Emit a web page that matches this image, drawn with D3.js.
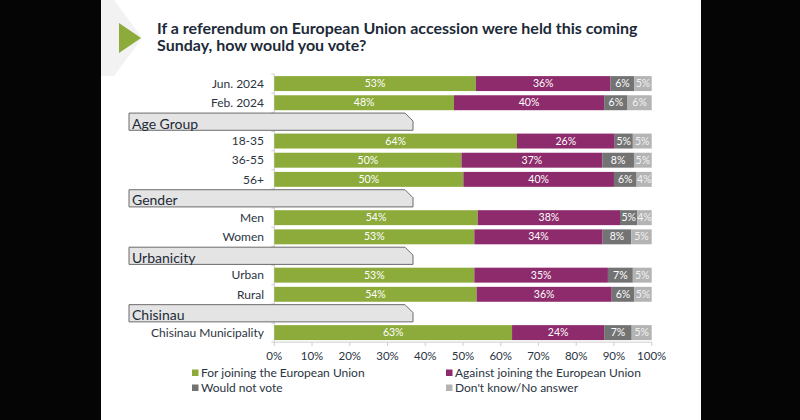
<!DOCTYPE html>
<html><head><meta charset="utf-8">
<script src="https://cdn.jsdelivr.net/npm/d3@7"></script>
<style>
html,body{margin:0;padding:0;background:#000;}
svg{display:block;}
text{font-family:Lato,"Open Sans",sans-serif;}
</style></head>
<body>
<script>
// ---- data ----
const rowIds   = ["Jun. 2024","Feb. 2024","H:Age Group","18-35","36-55","56+","H:Gender","Men","Women","H:Urbanicity","Urban","Rural","H:Chisinau","Chisinau Municipality"];
const seriesNames = ["For joining the European Union","Against joining the European Union","Would not vote","Don't know/No answer"];
const forEU     = {"Jun. 2024":53.4,"Feb. 2024":47.6,"18-35":64.3,"36-55":49.6,"56+":50.1,"Men":53.9,"Women":53.0,"Urban":53.0,"Rural":53.6,"Chisinau Municipality":63.0};
const againstEU = {"Jun. 2024":35.7,"Feb. 2024":39.8,"18-35":25.9,"36-55":37.3,"56+":39.9,"Men":37.7,"Women":34.0,"Urban":35.4,"Rural":35.8,"Chisinau Municipality":24.4};
const notVote   = {"Jun. 2024":6.3,"Feb. 2024":6.2,"18-35":4.8,"36-55":8.4,"56+":6.0,"Men":4.6,"Women":7.6,"Urban":6.6,"Rural":6.0,"Chisinau Municipality":7.3};
const dontKnow  = {"Jun. 2024":4.6,"Feb. 2024":6.4,"18-35":5.0,"36-55":4.7,"56+":4.0,"Men":3.8,"Women":5.4,"Urban":5.0,"Rural":4.6,"Chisinau Municipality":5.3};
const xTicks = [0,10,20,30,40,50,60,70,80,90,100];
const colors = ["#8cab3b","#8d2b6c","#737373","#b4b4b4"];
const titleLines = ["If a referendum on European Union accession were held this coming","Sunday, how would you vote?"];

const W=800,H=420;
const svg=d3.select("body").append("svg").attr("width",W).attr("height",H);
svg.append("rect").attr("x",0).attr("y",0).attr("width",W).attr("height",H).attr("fill","#050505");
svg.append("rect").attr("x",101).attr("y",0).attr("width",600).attr("height",H).attr("fill","#ffffff");

// decoration
svg.append("polygon").attr("points","101,0 114,0 142,38 114,76 101,76").attr("fill","#f2f2f2");
svg.append("polygon").attr("points","119,23 141,38 119,53").attr("fill","#8cab3b");

const title=svg.append("text").attr("x",157).attr("y",34).attr("fill","#1d2a38")
  .style("font-size","16px").style("font-weight","bold");
titleLines.forEach((t,i)=>title.append("tspan").attr("x",157).attr("y",34+16.5*i).text(t));

const x=d3.scaleLinear().domain([0,100]).range([274.3,651.7]);
const y=d3.scaleBand().domain(rowIds).range([74,342.2]).paddingInner(0.22).paddingOuter(0.11);
const step=y.step();

// axis lines
const axisColor="#cfcfcf";
svg.append("line").attr("x1",x(0)).attr("x2",x(0)).attr("y1",74).attr("y2",342.2).attr("stroke",axisColor);
svg.append("line").attr("x1",x(0)).attr("x2",x(100)).attr("y1",342.2).attr("y2",342.2).attr("stroke",axisColor);
d3.range(rowIds.length+1).forEach(i=>{
  const yy=74+i*step;
  svg.append("line").attr("x1",x(0)-3).attr("x2",x(0)).attr("y1",yy).attr("y2",yy).attr("stroke",axisColor);
});
xTicks.forEach(t=>{
  svg.append("line").attr("x1",x(t)).attr("x2",x(t)).attr("y1",342.2).attr("y2",346).attr("stroke",axisColor);
  svg.append("text").attr("x",x(t)).attr("y",360).attr("text-anchor","middle").attr("fill","#2b3442")
    .style("font-size","11.5px").text(t+"%");
});

const dataRows=rowIds.filter(r=>!r.startsWith("H:"));
const stack=d3.stack().keys([0,1,2,3]).value((r,k)=>[forEU,againstEU,notVote,dontKnow][k][r]);
const layers=stack(dataRows);
layers.forEach((layer,k)=>{
  const g=svg.append("g");
  layer.forEach((d,i)=>{
    const r=dataRows[i];
    g.append("rect").attr("x",x(d[0])).attr("y",y(r)).attr("width",x(d[1])-x(d[0])).attr("height",y.bandwidth()).attr("fill",colors[k]);
    g.append("text").attr("x",(x(d[0])+x(d[1]))/2).attr("y",y(r)+y.bandwidth()/2+3.6)
      .attr("text-anchor","middle").attr("fill",k===3?"#f2f2f2":"#ffffff").style("font-size","10.5px")
      .text(Math.round(d[1]-d[0])+"%");
  });
});

// row labels
dataRows.forEach(r=>{
  svg.append("text").attr("x",264).attr("y",y(r)+y.bandwidth()/2+4.2).attr("text-anchor","end")
    .attr("fill","#2b3442").style("font-size","12px").text(r);
});

// header boxes
rowIds.filter(r=>r.startsWith("H:")).forEach(r=>{
  const c=y(r)+y.bandwidth()/2;
  const t=c-8.8,b=c+8.4,l=129,rr=413;
  svg.append("path").attr("d",`M${l},${b} L${l},${t} L${rr-8},${t} L${rr},${t+8} L${rr},${b} Z`)
    .attr("fill","#e4e4e4").attr("stroke","#6b6b6b").attr("stroke-width",1);
  svg.append("text").attr("x",132).attr("y",b-1.5).attr("fill","#1d2a38").style("font-size","14px").text(r.slice(2));
});

// legend
const legendPos=[[192,373],[446,373],[192,388],[446,388]];
seriesNames.forEach((s,k)=>{
  const [lx,ly]=legendPos[k];
  svg.append("rect").attr("x",lx).attr("y",ly-3.5).attr("width",6.5).attr("height",6.5).attr("fill",colors[k]);
  svg.append("text").attr("x",lx+9).attr("y",ly+4.3).attr("fill","#2b3442").style("font-size","12px").text(s);
});
</script>
</body></html>
